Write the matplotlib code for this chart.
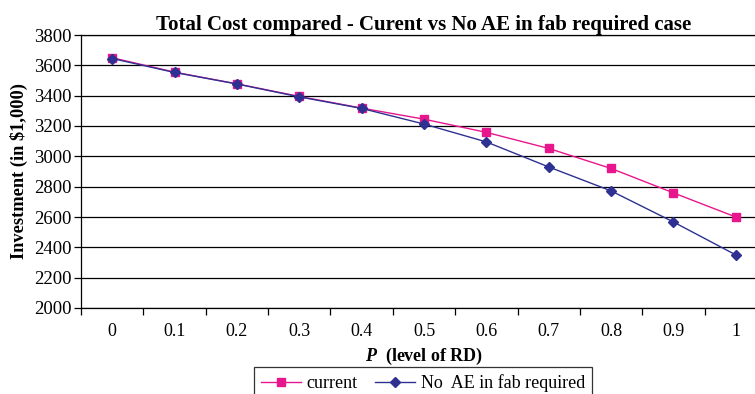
import matplotlib.pyplot as plt
import numpy as np

plt.rcParams['font.family'] = ['Liberation Serif', 'DejaVu Serif']
plt.rcParams['mathtext.fontset'] = 'custom'
plt.rcParams['mathtext.bfit'] = 'Liberation Serif:italic:bold'

# level of RD
p_labels = ['0', '0.1', '0.2', '0.3', '0.4', '0.5', '0.6', '0.7', '0.8', '0.9', '1']
current = [3650, 3555, 3478, 3395, 3318, 3245, 3158, 3052, 2920, 2759, 2600]
no_ae = [3645, 3553, 3477, 3392, 3316, 3213, 3095, 2930, 2772, 2567, 2350]

x = np.arange(len(p_labels))

fig = plt.figure(figsize=(7.55, 3.94), dpi=100)
ax = fig.add_axes([81 / 755, 1 - 308 / 394, 686 / 755, 273 / 394])

ax.plot(x, current, color='#E8168C', lw=1, marker='s', ms=6, label='current')
ax.plot(x, no_ae, color='#2E3192', lw=1, marker='D', ms=5.5, label='No  AE in fab required')

ax.set_xlim(-0.5, len(p_labels) - 0.5)
ax.set_ylim(2000, 3800)
ax.set_yticks(np.arange(2000, 3801, 200))
ax.yaxis.grid(True, color='black', lw=0.9)
ax.set_axisbelow(True)

# category boundaries carry the tick marks, labels sit at the centers
ax.set_xticks(np.arange(-0.5, len(p_labels), 1))
ax.set_xticklabels([])
ax.set_xticks(x, minor=True)
ax.set_xticklabels(p_labels, minor=True, fontsize=13)
ax.tick_params(axis='x', which='major', direction='out', length=5, width=0.9)
ax.tick_params(axis='x', which='minor', length=0, pad=11)
ax.tick_params(axis='y', direction='out', length=5, width=0.9, labelsize=13.5, pad=2)

for s in ['left', 'bottom', 'top']:
    ax.spines[s].set_linewidth(0.9)
ax.spines['right'].set_visible(False)

ax.set_title('Total Cost compared - Curent vs No AE in fab required case',
             fontsize=15, fontweight='bold', pad=2)
ax.set_ylabel('Investment (in $1,000)', fontsize=13.2, fontweight='bold', labelpad=4)
ax.set_xlabel(r'$\mathbfit{P}$  (level of RD)', fontsize=13, fontweight='bold', labelpad=4)

leg = fig.legend(loc='upper center', bbox_to_anchor=(423 / 755, 1 - 367 / 394), ncol=2,
                 fontsize=13, frameon=True, fancybox=False, edgecolor='black',
                 handlelength=2.2, handletextpad=0.3, columnspacing=1.0,
                 borderpad=0.4, borderaxespad=0, markerscale=0.85)
leg.get_frame().set_linewidth(0.9)

fig.savefig('out.png', dpi=100)
